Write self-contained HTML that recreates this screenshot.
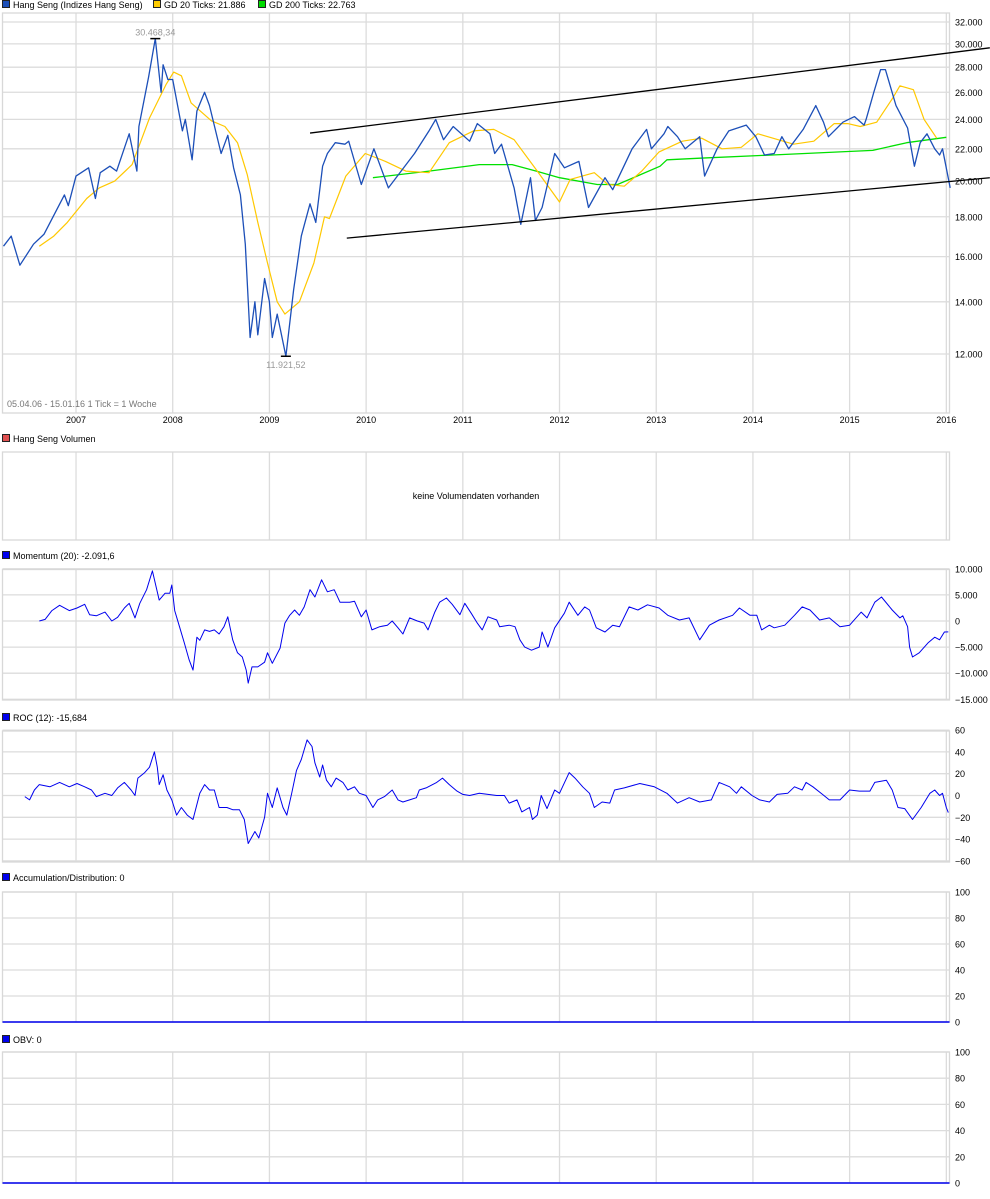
<!DOCTYPE html>
<html><head><meta charset="utf-8">
<style>
body{margin:0;background:#fff;width:990px;height:1194px;overflow:hidden;font-family:"Liberation Sans",sans-serif;}
svg text{font-family:"Liberation Sans",sans-serif;font-size:9px;fill:#000;}
</style></head>
<body>
<svg id="chart" width="990" height="1194" xmlns="http://www.w3.org/2000/svg"></svg>
<script>
const priceDates=[2006.25,2006.33,2006.42,2006.56,2006.67,2006.88,2006.92,2007.0,2007.13,2007.2,2007.25,2007.35,2007.42,2007.55,2007.63,2007.65,2007.75,2007.82,2007.88,2007.9,2007.95,2008.0,2008.1,2008.13,2008.2,2008.25,2008.33,2008.38,2008.5,2008.57,2008.63,2008.7,2008.75,2008.8,2008.85,2008.88,2008.95,2009.0,2009.03,2009.08,2009.17,2009.25,2009.33,2009.42,2009.48,2009.55,2009.6,2009.68,2009.78,2009.82,2009.95,2010.08,2010.23,2010.5,2010.65,2010.72,2010.8,2010.9,2011.07,2011.15,2011.28,2011.33,2011.4,2011.53,2011.6,2011.7,2011.75,2011.82,2011.95,2012.05,2012.2,2012.3,2012.47,2012.55,2012.75,2012.9,2012.95,2013.08,2013.12,2013.22,2013.3,2013.45,2013.5,2013.63,2013.75,2013.93,2014.03,2014.12,2014.22,2014.3,2014.37,2014.52,2014.65,2014.73,2014.78,2014.93,2015.05,2015.15,2015.17,2015.25,2015.32,2015.37,2015.48,2015.6,2015.67,2015.73,2015.8,2015.88,2015.93,2015.96,2016.04];
const priceValues=[16500,17000,15600,16600,17100,19200,18600,20300,20800,19000,20500,20900,20600,23000,20600,23500,27200,30468,26000,28200,27000,27000,23200,24000,21300,24600,26000,25000,21700,22900,20800,19200,16600,12600,14000,12700,15000,14000,12600,13500,11921,14500,17000,18700,17700,20900,21700,22400,22300,22500,19800,22000,19600,21700,23200,24000,22600,23500,22500,23700,23000,21700,22300,19600,17600,20200,17800,18500,21700,20800,21200,18500,20200,19500,22000,23300,22000,23000,23500,22800,22000,22800,20300,22000,23200,23600,22800,21600,21700,22800,22000,23300,25000,23800,22800,23800,24200,23600,24000,26000,27800,27800,25000,23400,20900,22400,23000,22000,21600,22000,19600];
const gd20Dates=[2006.62,2006.77,2006.91,2007.11,2007.24,2007.4,2007.58,2007.76,2007.93,2008.01,2008.09,2008.19,2008.4,2008.54,2008.67,2008.77,2008.88,2008.98,2009.08,2009.16,2009.31,2009.46,2009.57,2009.62,2009.79,2009.99,2010.2,2010.41,2010.65,2010.86,2011.11,2011.32,2011.53,2011.77,2012.0,2012.11,2012.36,2012.5,2012.67,2012.85,2013.03,2013.27,2013.47,2013.68,2013.88,2014.05,2014.26,2014.42,2014.63,2014.84,2014.98,2015.11,2015.28,2015.45,2015.52,2015.66,2015.77,2015.9];
const gd20Values=[16500,17000,17700,19000,19600,20000,21000,24100,26600,27600,27300,25200,23900,23500,22400,20400,17700,15700,14000,13500,14000,15700,18000,17900,20300,21700,21200,20600,20500,22400,23200,23300,22600,20600,18800,20100,20500,19800,19700,20600,21800,22500,22700,22000,22100,23000,22600,22300,22500,23700,23700,23500,23800,25600,26500,26200,24000,22700,21900];
const gd200Dates=[2010.07,2010.65,2011.17,2011.51,2011.76,2012.0,2012.39,2012.6,2013.04,2013.11,2013.45,2014.2,2014.9,2015.24,2015.59,2016.0];
const gd200Values=[20200,20600,21000,21000,20600,20200,19800,19800,20900,21300,21400,21600,21800,21900,22400,22763];
const channelUpper=[[2009.42,23050],[2016.45,29650]];
const channelLower=[[2009.80,16900],[2016.45,20200]];
const momDates=[2006.62,2006.68,2006.75,2006.83,2006.93,2007.01,2007.09,2007.14,2007.21,2007.30,2007.37,2007.43,2007.50,2007.55,2007.61,2007.66,2007.73,2007.79,2007.86,2007.92,2007.97,2007.99,2008.02,2008.07,2008.12,2008.17,2008.21,2008.25,2008.28,2008.33,2008.38,2008.43,2008.48,2008.53,2008.57,2008.62,2008.67,2008.72,2008.76,2008.78,2008.82,2008.88,2008.95,2008.98,2009.03,2009.11,2009.16,2009.21,2009.26,2009.31,2009.36,2009.42,2009.47,2009.54,2009.60,2009.67,2009.73,2009.83,2009.88,2009.95,2010.00,2010.06,2010.14,2010.22,2010.27,2010.33,2010.38,2010.45,2010.53,2010.60,2010.64,2010.71,2010.76,2010.83,2010.89,2010.97,2011.02,2011.09,2011.15,2011.20,2011.26,2011.35,2011.38,2011.48,2011.54,2011.59,2011.64,2011.71,2011.79,2011.82,2011.88,2011.95,2012.05,2012.10,2012.19,2012.26,2012.31,2012.38,2012.47,2012.55,2012.62,2012.72,2012.81,2012.91,2013.03,2013.12,2013.24,2013.34,2013.45,2013.55,2013.65,2013.79,2013.86,2013.97,2014.04,2014.09,2014.17,2014.22,2014.33,2014.43,2014.51,2014.59,2014.69,2014.79,2014.90,2015.00,2015.12,2015.18,2015.26,2015.33,2015.44,2015.52,2015.55,2015.60,2015.62,2015.65,2015.72,2015.81,2015.88,2015.93,2015.98,2016.02];
const momValues=[0,300,2000,3000,2000,2500,3200,1200,1000,1700,0,700,2500,3400,600,3400,6000,9600,4000,5300,5300,6900,2000,-1100,-4200,-7500,-9400,-3100,-3700,-1700,-2000,-1700,-2500,-1100,800,-3600,-6100,-6900,-9400,-11900,-8800,-8800,-7900,-6100,-8100,-5200,-400,1100,2100,1100,2700,6000,4600,7900,5600,6000,3600,3600,3800,800,2100,-1700,-1100,-800,0,-1300,-2500,600,0,-400,-1700,1700,3600,4400,3200,1200,3400,1400,-400,-1700,800,200,-1100,-800,-1100,-3600,-5000,-5600,-5000,-2100,-5000,-1300,1500,3600,1100,2700,2100,-1300,-2100,-800,-1100,2700,2100,3100,2500,1100,200,600,-3600,-800,200,1100,2500,1100,1100,-1700,-800,-1300,-800,1100,2700,2100,200,600,-1100,-800,1700,600,3600,4600,2100,600,1000,-1100,-5000,-6900,-6100,-4200,-3100,-3600,-2100,-2092];
const rocDates=[2006.47,2006.52,2006.57,2006.62,2006.73,2006.83,2006.93,2007.01,2007.09,2007.16,2007.21,2007.30,2007.37,2007.43,2007.50,2007.57,2007.61,2007.64,2007.71,2007.76,2007.81,2007.84,2007.86,2007.90,2007.94,2007.99,2008.04,2008.09,2008.15,2008.21,2008.28,2008.33,2008.38,2008.43,2008.48,2008.56,2008.62,2008.69,2008.74,2008.78,2008.85,2008.89,2008.95,2008.98,2009.03,2009.08,2009.14,2009.18,2009.23,2009.28,2009.33,2009.39,2009.44,2009.47,2009.52,2009.55,2009.59,2009.64,2009.69,2009.76,2009.81,2009.88,2009.93,2010.00,2010.07,2010.12,2010.19,2010.27,2010.33,2010.38,2010.45,2010.52,2010.55,2010.62,2010.73,2010.79,2010.86,2010.94,2011.00,2011.07,2011.17,2011.35,2011.38,2011.43,2011.48,2011.56,2011.61,2011.69,2011.72,2011.77,2011.81,2011.87,2011.95,2012.00,2012.10,2012.16,2012.24,2012.31,2012.36,2012.44,2012.52,2012.57,2012.67,2012.83,2012.98,2013.11,2013.22,2013.34,2013.45,2013.57,2013.65,2013.76,2013.83,2013.88,2013.99,2014.07,2014.17,2014.25,2014.36,2014.43,2014.51,2014.55,2014.62,2014.72,2014.79,2014.90,2015.00,2015.10,2015.21,2015.26,2015.38,2015.44,2015.50,2015.57,2015.65,2015.74,2015.83,2015.88,2015.93,2015.96,2016.00,2016.02];
const rocValues=[-1,-4,5,10,8,12,8,11,8,5,-1,2,0,7,12,5,0,16,21,26,40,26,10,19,5,-4,-18,-11,-18,-22,2,10,5,5,-11,-11,-13,-13,-22,-44,-33,-39,-20,2,-11,7,-11,-18,2,23,33,51,45,30,17,28,14,8,16,12,5,8,2,0,-11,-4,-1,5,-4,-6,-4,-2,5,7,12,16,10,4,1,0,2,0,0,0,-7,-4,-15,-11,-22,-18,0,-12,5,2,21,16,8,2,-11,-6,-7,5,7,11,8,2,-7,-2,-6,-4,12,8,2,8,0,-4,-6,1,2,8,5,12,8,1,-4,-4,5,4,4,12,14,5,-11,-12,-22,-11,2,5,0,2,-11,-15.684];
const adDates=[2006.25,2016.04];
const adValues=[0,0];
const obvDates=[2006.25,2016.04];
const obvValues=[0,0];
const years=[2007,2008,2009,2010,2011,2012,2013,2014,2015,2016];
const priceTicks=[12000,14000,16000,18000,20000,22000,24000,26000,28000,30000,32000];
const priceTickLabels=["12.000","14.000","16.000","18.000","20.000","22.000","24.000","26.000","28.000","30.000","32.000"];
const momTicks=[10000,5000,0,-5000,-10000,-15000];
const momTickLabels=["10.000","5.000","0","\u22125.000","\u221210.000","\u221215.000"];
const rocTicks=[60,40,20,0,-20,-40,-60];
const pctTicks=[100,80,60,40,20,0];

const NS="http://www.w3.org/2000/svg";
const svg=document.getElementById('chart');
const L=2.5,R=949.5;
function X(d){return 3.5+(d-2006.25)*96.7;}
function Yp(v){return 22+338.5*Math.log(32000/v);}
function Ym(v){return 621-v*26.1/5000;}
function Yr(v){return 795.5-v*21.8/20;}
function Ya(v){return 1022-v*1.3;}
function Yo(v){return 1183-v*1.31;}
function el(tag,attrs,parent){const e=document.createElementNS(NS,tag);for(const k in attrs)e.setAttribute(k,attrs[k]);(parent||svg).appendChild(e);return e;}
function txt(x,y,s,anchor,fill){const t=el('text',{x:x,y:y,'text-anchor':anchor||'start'});if(fill)t.style.fill=fill;t.textContent=s;return t;}

function panel(name,top,bottom,hLines){
  const g=el('g',{});
  
  
  years.forEach(y=>{const l=el('line',{x1:X(y),x2:X(y),y1:top,y2:bottom,stroke:'#dcdcdc','stroke-width':1.3},g);
    
    });
  hLines.forEach(y=>{const l=el('line',{x1:L,x2:R,y1:y,y2:y,stroke:'#dcdcdc','stroke-width':1.3},g);
    
    });
  const r=el('rect',{x:L,y:top,width:R-L,height:bottom-top,fill:'none',stroke:'#d8d8d8','stroke-width':1.3},g);
  
  
  return g;
}
function legend(x,y,color,label,name){
  const g=el('g',{});
  
  
  el('rect',{x:x+0.5,y:y-7.5,width:7,height:7,fill:color,stroke:'#222','stroke-width':1},g);
  const t=el('text',{x:x+11,y:y},g);t.textContent=label;
  return g;
}
function series(dates,vals,xf,yf,color,name,w){
  const p=el('polyline',{points:dates.map((d,i)=>xf(d).toFixed(1)+','+yf(vals[i]).toFixed(1)).join(' '),fill:'none',stroke:color,'stroke-width':w||1.2,'stroke-linejoin':'round'});
  
  
  return p;
}

legend(2,8,'#1c4fb8','Hang Seng (Indizes Hang Seng)','legend-hang-seng');
legend(153,8,'#ffcc00','GD 20 Ticks: 21.886','legend-gd20');
legend(258,8,'#00dd00','GD 200 Ticks: 22.763','legend-gd200');

panel('price-panel',13,413,priceTicks.map(Yp));
priceTicks.forEach((v,i)=>{const t=txt(955,Yp(v)+3.5,priceTickLabels[i]);
  
  });
years.forEach(y=>{const t=txt(X(y),423,String(y),'middle');
  
  });
const info=txt(7,407,'05.04.06 - 15.01.16   1 Tick = 1 Woche','start','#777');


info.setAttribute('xml:space','preserve');

series(gd200Dates,gd200Values,X,Yp,'#00e000','gd200-line',1.3);
series(gd20Dates,gd20Values,X,Yp,'#ffc800','gd20-line',1.2);
series(priceDates,priceValues,X,Yp,'#1c4fb8','price-line',1.3);
[channelUpper,channelLower].forEach((c,i)=>{
  const l=el('line',{x1:X(c[0][0]),y1:Yp(c[0][1]),x2:X(c[1][0]),y2:Yp(c[1][1]),stroke:'#000','stroke-width':1.3});
  
  
});
const iMax=priceValues.indexOf(Math.max(...priceValues)), iMin=priceValues.indexOf(Math.min(...priceValues));
const mx=el('line',{x1:X(priceDates[iMax])-5,x2:X(priceDates[iMax])+5,y1:Yp(priceValues[iMax]),y2:Yp(priceValues[iMax]),stroke:'#000','stroke-width':1.5});


const mxt=txt(X(priceDates[iMax]),Yp(priceValues[iMax])-3,'30.468,34','middle','#999');


const mn=el('line',{x1:X(priceDates[iMin])-5,x2:X(priceDates[iMin])+5,y1:Yp(priceValues[iMin]),y2:Yp(priceValues[iMin]),stroke:'#000','stroke-width':1.5});


const mnt=txt(X(priceDates[iMin]),Yp(priceValues[iMin])+12,'11.921,52','middle','#999');



legend(2,442,'#e05050','Hang Seng Volumen','legend-volume');
panel('volume-panel',452,540,[]);
const nv=txt(476,499,'keine Volumendaten vorhanden','middle');



legend(2,559,'#0000ee','Momentum (20): -2.091,6','legend-momentum');
panel('momentum-panel',569.5,700,momTicks.map(Ym));
momTicks.forEach((v,i)=>{const t=txt(955,Ym(v)+3.5,momTickLabels[i]);
  
  });
series(momDates,momValues,X,Ym,'#0000ee','momentum-line',1);

legend(2,721,'#0000ee','ROC (12): -15,684','legend-roc');
panel('roc-panel',731,862,rocTicks.map(Yr));
rocTicks.forEach(v=>{const t=txt(955,Yr(v)+3.5,String(v).replace('-','\u2212'));
  
  });
series(rocDates,rocValues,X,Yr,'#0000ee','roc-line',1);

legend(2,881,'#0000ee','Accumulation/Distribution: 0','legend-accumulation-distribution');
panel('ad-panel',892,1022,pctTicks.map(Ya));
pctTicks.forEach(v=>{const t=txt(955,Ya(v)+3.5,String(v));
  
  });
series(adDates,adValues,d=>d<2006.3?L:(d>2016?R:X(d)),Ya,'#0000ee','ad-line',1.5);

legend(2,1043,'#0000ee','OBV: 0','legend-obv');
panel('obv-panel',1052,1183,pctTicks.map(Yo));
pctTicks.forEach(v=>{const t=txt(955,Yo(v)+3.5,String(v));
  
  });
series(obvDates,obvValues,d=>d<2006.3?L:(d>2016?R:X(d)),Yo,'#0000ee','obv-line',1.5);
</script>
</body></html>
